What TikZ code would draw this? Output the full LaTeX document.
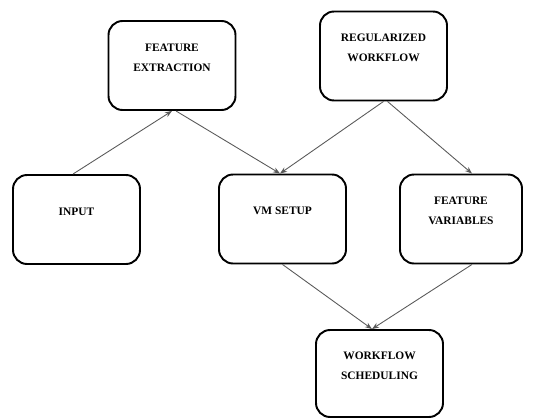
\documentclass[tikz,border=0pt]{standalone}
\usepackage{fontspec}
\setmainfont{Liberation Serif}
\usetikzlibrary{arrows.meta}

\begin{document}
\begin{tikzpicture}[
    stage/.style={draw, line width=1.1pt, rounded corners=8pt, minimum width=2.54cm,
        minimum height=1.78cm, align=center, text depth=9pt,
        font=\fontsize{6.5}{11.4}\selectfont\bfseries},
    link/.style={draw=black!65, line width=0.5pt, -{Stealth[length=4pt,width=3pt]}}]
    \useasboundingbox (0,0) rectangle (11.08,8.36);

    \node[stage] (extract) at (3.44,7.05) {FEATURE\\EXTRACTION};
    \node[stage] (regular) at (7.67,7.24) {REGULARIZED\\WORKFLOW};

    \node[stage] (input) at (1.53,3.97) {INPUT};
    \node[stage] (vmsetup) at (5.65,3.98) {VM SETUP};
    \node[stage, minimum width=2.44cm] (variables) at (9.22,3.98) {FEATURE\\VARIABLES};

    \node[stage, minimum height=1.74cm] (schedule) at (7.59,0.89) {WORKFLOW\\SCHEDULING};

    \draw[link] ([xshift=-0.07cm]input.north) -- (extract.south);
    \draw[link] ([xshift=0.08cm]extract.south) -- ([xshift=-0.05cm]vmsetup.north);
    \draw[link] (regular.south) -- ([xshift=-0.05cm]vmsetup.north);
    \draw[link] ([xshift=0.08cm]regular.south) -- ([xshift=0.22cm]variables.north);
    \draw[link] (vmsetup.south) -- ([xshift=-0.15cm]schedule.north);
    \draw[link] ([xshift=0.22cm]variables.south) -- ([xshift=-0.15cm]schedule.north);
\end{tikzpicture}
\end{document}
